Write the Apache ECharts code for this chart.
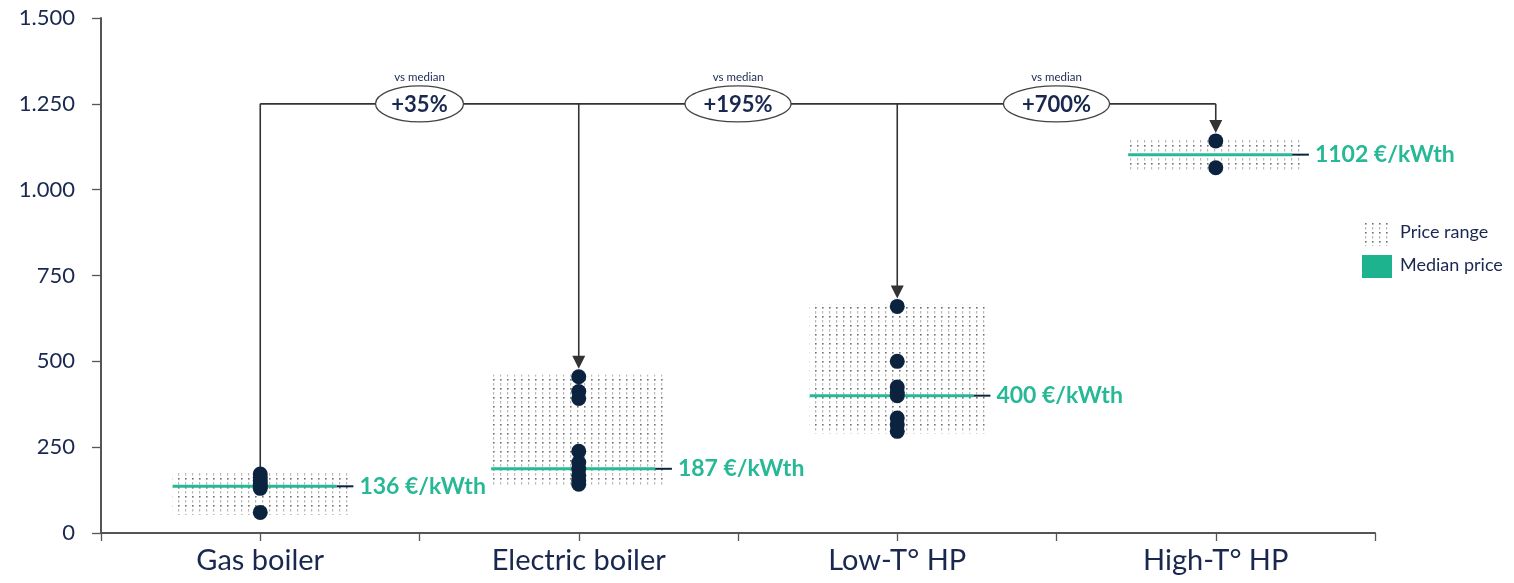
<!DOCTYPE html>
<html>
<head>
<meta charset="utf-8">
<script src="https://cdn.jsdelivr.net/npm/echarts@6/dist/echarts.min.js"></script>
<style>
  html, body { margin: 0; padding: 0; background: #ffffff; }
  #chart { width: 1514px; height: 583px; }
</style>
</head>
<body>
<div id="chart"></div>
<script>
// Heat generator prices, €/kWth
const categories = ['Gas boiler', 'Electric boiler', 'Low-T° HP', 'High-T° HP'];
const categoryPositions = [1, 3, 5, 7];

const gasBoiler = [172, 162, 152, 143, 136, 130, 60];
const electricBoiler = [455, 412, 392, 238, 205, 187, 168, 152, 142];
const lowTempHP = [660, 500, 425, 410, 400, 335, 315, 296];
const highTempHP = [1142, 1064];

const medians = [136, 187, 400, 1102];
const medianLabels = ['136 €/kWth', '187 €/kWth', '400 €/kWth', '1102 €/kWth'];

const comparisons = ['+35%', '+195%', '+700%'];
const comparisonPositions = [2, 4, 6];
const comparisonLevel = 1250;

const yTickLabels = ['0', '250', '500', '750', '1.000', '1.250', '1.500'];

const legendLabels = ['Price range', 'Median price'];

const groups = [gasBoiler, electricBoiler, lowTempHP, highTempHP];

const NAVY = '#1a2850';
const DOT = '#0c2340';
const TEAL = '#27b896';
const AXIS = '#555555';
const FONT = 'Lato, "Open Sans", sans-serif';

// Dotted fill used for the price ranges
function makeDotPattern() {
  const c = document.createElement('canvas');
  c.width = 7; c.height = 9;
  const g = c.getContext('2d');
  g.fillStyle = '#6f6f6f';
  g.fillRect(3, 1, 1.6, 1.6);
  g.fillStyle = '#b9b9b9';
  g.fillRect(3, 5, 1.2, 2.6);
  return c;
}
const dotPattern = makeDotPattern();

const rangeData = groups.map((vals, i) => [
  categoryPositions[i], Math.min(...vals), Math.max(...vals), medians[i], i
]);

const scatterData = [];
groups.forEach((vals, i) => vals.forEach(v => scatterData.push([categoryPositions[i], v])));

const HALF = 0.55;

function renderRange(params, api) {
  const x = api.value(0), lo = api.value(1), hi = api.value(2), med = api.value(3);
  const idx = api.value(4);
  const tl = api.coord([x - HALF, hi]);
  const br = api.coord([x + HALF, lo]);
  const m0 = api.coord([x - HALF, med]);
  const m1 = api.coord([x + 0.48, med]);
  const m2 = api.coord([x + 0.585, med]);
  return {
    type: 'group',
    children: [
      {
        type: 'rect',
        shape: { x: tl[0], y: tl[1] - 2, width: br[0] - tl[0], height: br[1] - tl[1] + 4 },
        style: { fill: { image: dotPattern, repeat: 'repeat' }, stroke: null }
      },
      {
        type: 'line',
        shape: { x1: m0[0], y1: m0[1], x2: m1[0], y2: m1[1] },
        style: { stroke: TEAL, lineWidth: 3 }
      },
      {
        type: 'line',
        shape: { x1: m1[0], y1: m1[1], x2: m2[0], y2: m2[1] },
        style: { stroke: DOT, lineWidth: 2 }
      },
      {
        type: 'text',
        x: m2[0] + 6, y: m2[1],
        style: {
          text: medianLabels[idx], fill: TEAL, font: 'bold 23px ' + FONT,
          textAlign: 'left', textVerticalAlign: 'middle'
        }
      }
    ]
  };
}

function renderConnector(params, api) {
  const x = api.value(0), top = api.value(1), idx = api.value(2);
  const start = api.coord([x, comparisonLevel]);
  const end = api.coord([x, top]);
  const children = [];
  const stroke = { stroke: '#333333', lineWidth: 1.6 };
  if (idx === 0) {
    const last = api.coord([categoryPositions[categoryPositions.length - 1], comparisonLevel]);
    children.push({ type: 'line', shape: { x1: start[0], y1: start[1], x2: last[0], y2: last[1] }, style: stroke });
    children.push({ type: 'line', shape: { x1: start[0], y1: start[1], x2: end[0], y2: end[1] }, style: stroke });
  } else {
    const tipY = end[1] - 8;
    children.push({ type: 'line', shape: { x1: start[0], y1: start[1], x2: end[0], y2: tipY - 10 }, style: stroke });
    children.push({
      type: 'polygon',
      shape: { points: [[end[0] - 6.5, tipY - 13], [end[0] + 6.5, tipY - 13], [end[0], tipY]] },
      style: { fill: '#333333' }
    });
  }
  return { type: 'group', children };
}

function renderComparison(params, api) {
  const x = api.value(0), lvl = api.value(1), idx = api.value(2);
  const p = api.coord([x, lvl]);
  const rx = comparisons[idx].length > 4 ? 53 : 44;
  return {
    type: 'group',
    children: [
      {
        type: 'ellipse',
        shape: { cx: p[0], cy: p[1], rx: rx, ry: 18 },
        style: { fill: '#ffffff', stroke: '#444444', lineWidth: 1.3 }
      },
      {
        type: 'text', x: p[0], y: p[1] + 1,
        style: {
          text: comparisons[idx], fill: NAVY, font: 'bold 22px ' + FONT,
          textAlign: 'center', textVerticalAlign: 'middle'
        }
      },
      {
        type: 'text', x: p[0], y: p[1] - 27,
        style: {
          text: 'vs median', fill: NAVY, font: '11.5px ' + FONT,
          textAlign: 'center', textVerticalAlign: 'middle'
        }
      }
    ]
  };
}

const chart = echarts.init(document.getElementById('chart'), null, { renderer: 'canvas' });

chart.setOption({
  backgroundColor: '#ffffff',
  animation: false,
  grid: { left: 101, right: 139, top: 18, bottom: 50, containLabel: false },
  xAxis: {
    type: 'value', min: 0, max: 8, interval: 1,
    axisLine: { show: true, lineStyle: { color: AXIS, width: 2 } },
    axisTick: { show: true, length: 8, lineStyle: { color: AXIS, width: 1.3 } },
    splitLine: { show: false },
    axisLabel: {
      color: NAVY, fontFamily: FONT, fontSize: 29, margin: 13,
      formatter: v => {
        const i = categoryPositions.indexOf(v);
        return i >= 0 ? categories[i] : '';
      }
    }
  },
  yAxis: {
    type: 'value', min: 0, max: 1500, interval: 250,
    axisLine: { show: true, lineStyle: { color: AXIS, width: 2 } },
    axisTick: { show: true, length: 9, lineStyle: { color: AXIS, width: 1.3 } },
    splitLine: { show: false },
    axisLabel: {
      color: NAVY, fontFamily: FONT, fontSize: 22, margin: 26,
      formatter: v => yTickLabels[Math.round(v / 250)]
    }
  },
  series: [
    {
      type: 'custom', name: 'range', renderItem: renderRange,
      data: rangeData, z: 1, silent: true
    },
    {
      type: 'custom', name: 'connector', renderItem: renderConnector,
      data: groups.map((vals, i) => [categoryPositions[i], Math.max(...vals), i]),
      z: 2, silent: true
    },
    {
      type: 'scatter', name: 'prices', data: scatterData,
      symbolSize: 15, itemStyle: { color: DOT, opacity: 1 }, z: 3
    },
    {
      type: 'custom', name: 'comparison', renderItem: renderComparison,
      data: comparisonPositions.map((x, i) => [x, comparisonLevel, i]),
      z: 4, silent: true
    }
  ],
  graphic: [
    {
      type: 'rect', left: 1362, top: 222, shape: { width: 30, height: 24 },
      style: { fill: { image: dotPattern, repeat: 'repeat' } }
    },
    {
      type: 'text', left: 1400, top: 223,
      style: { text: legendLabels[0], fill: NAVY, font: '18px ' + FONT }
    },
    {
      type: 'rect', left: 1362, top: 255, shape: { width: 30, height: 23 },
      style: { fill: '#1db38e' }
    },
    {
      type: 'text', left: 1400, top: 256,
      style: { text: legendLabels[1], fill: NAVY, font: '18px ' + FONT }
    }
  ]
});
</script>
</body>
</html>
